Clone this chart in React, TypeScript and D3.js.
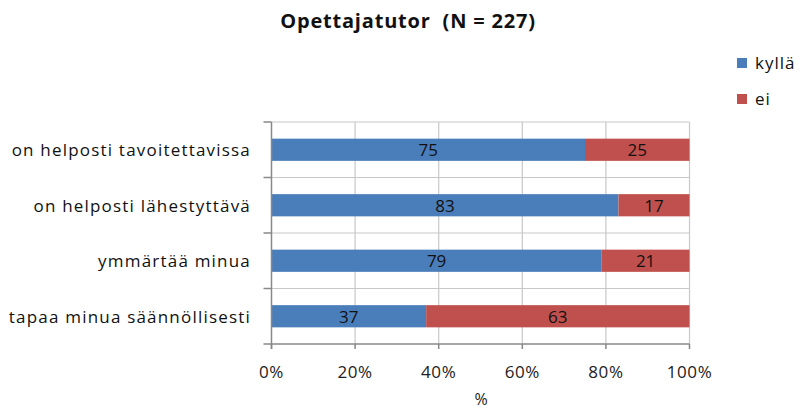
import React from "react";
import * as d3 from "d3";

const categories = [
  "on helposti tavoitettavissa",
  "on helposti lähestyttävä",
  "ymmärtää minua",
  "tapaa minua säännöllisesti",
];
const kylla = [75, 83, 79, 37];
const ei = [25, 17, 21, 63];
const seriesNames = ["kyllä", "ei"];
const ticks = [0, 20, 40, 60, 80, 100];

const colors = ["#4A7EBB", "#C0504D"];
const font = "'Open Sans', 'Liberation Sans', sans-serif";

export default function App() {
  const W = 800, H = 409;
  const left = 271.5, right = 689.5, top = 122, bottom = 344;
  const x = d3.scaleLinear().domain([0, 100]).range([left, right]);
  const y = d3.scaleBand().domain(categories).range([top, bottom]).paddingInner(0.6).paddingOuter(0.3);
  const band = (bottom - top) / categories.length;
  const rows = categories.map((c, i) => ({ c, vals: [kylla[i], ei[i]] }));

  return (
    <svg width={W} height={H} style={{ position: "absolute", left: 0, top: 0, background: "#fff" }}>
      <text x={408} y={28} textAnchor="middle" fontFamily={font} fontWeight="bold" fontSize={20} letterSpacing={0.8} fill="#111" style={{ whiteSpace: "pre" }}>
        {"Opettajatutor  (N = 227)"}
      </text>
      {/* grid */}
      {ticks.slice(1).map((t) => (
        <line key={"v" + t} x1={x(t)} x2={x(t)} y1={top} y2={bottom} stroke="#c8c8c8" strokeWidth={1.2} />
      ))}
      {d3.range(categories.length).map((i) => (
        <line key={"h" + i} x1={left} x2={right} y1={top + i * band} y2={top + i * band} stroke="#c8c8c8" strokeWidth={1.2} />
      ))}
      {/* bars */}
      {rows.map((r) => {
        let acc = 0;
        return r.vals.map((v, j) => {
          const x0 = x(acc);
          acc += v;
          const x1 = x(acc);
          return (
            <g key={r.c + j}>
              <rect x={x0} y={y(r.c)!} width={x1 - x0} height={y.bandwidth()} fill={colors[j]} />
              <text x={(x0 + x1) / 2} y={y(r.c)! + y.bandwidth() / 2 + 6.5} textAnchor="middle" fontFamily={font} fontSize={17} fill="#111">
                {v}
              </text>
            </g>
          );
        });
      })}
      {/* axes */}
      <line x1={left} x2={left} y1={top} y2={bottom + 5} stroke="#888" strokeWidth={1.5} />
      <line x1={left - 8} x2={right} y1={bottom} y2={bottom} stroke="#888" strokeWidth={1.5} />
      {d3.range(categories.length).map((i) => (
        <line key={"lt" + i} x1={left - 8} x2={left} y1={top + i * band} y2={top + i * band} stroke="#888" strokeWidth={1.5} />
      ))}
      {ticks.map((t) => (
        <g key={"t" + t}>
          <line x1={x(t)} x2={x(t)} y1={bottom} y2={bottom + 5} stroke="#888" strokeWidth={1.5} />
          <text x={x(t)} y={378} textAnchor="middle" fontFamily={font} fontSize={17} letterSpacing={0.6} fill="#222">
            {t}%
          </text>
        </g>
      ))}
      <text x={481} y={405} textAnchor="middle" fontFamily={font} fontSize={16} fill="#222">%</text>
      {categories.map((c) => (
        <text key={c} x={251} y={y(c)! + y.bandwidth() / 2 + 6.5} textAnchor="end" fontFamily={font} fontSize={17} letterSpacing={1.2} fill="#111">
          {c}
        </text>
      ))}
      {/* legend */}
      {seriesNames.map((s, i) => (
        <g key={s}>
          <rect x={737} y={58 + i * 36} width={10} height={10} fill={colors[i]} />
          <text x={755} y={69 + i * 36} fontFamily={font} fontSize={17} letterSpacing={1} fill="#111">{s}</text>
        </g>
      ))}
    </svg>
  );
}
